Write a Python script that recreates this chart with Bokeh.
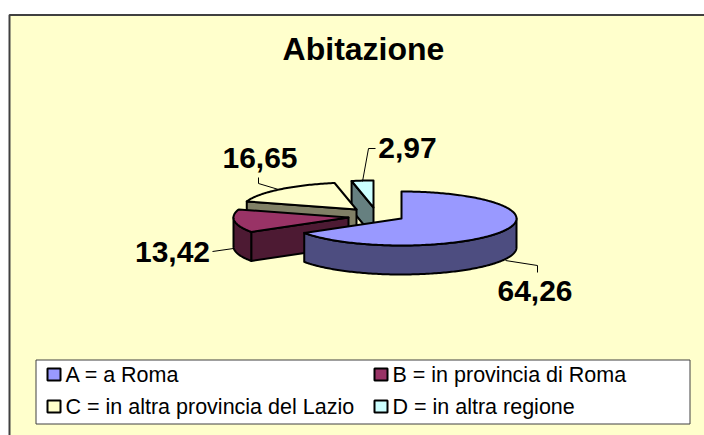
import math
from bokeh.plotting import figure
from bokeh.models import Range1d
from bokeh.core.properties import value
from bokeh.embed import file_html
from bokeh.resources import INLINE

# ---- data ----
title = "Abitazione"
categories = ["A = a Roma", "B = in provincia di Roma",
              "C = in altra provincia del Lazio", "D = in altra regione"]
values = [64.26, 13.42, 16.65, 2.97]
value_labels = ["64,26", "13,42", "16,65", "2,97"]
top_colors = ["#9999FF", "#993366", "#FFFFCC", "#CCFFFF"]
side_colors = ["#4D4D80", "#4D1A33", "#808066", "#668080"]

# ---- layout (page pixels) ----
FONT = value("Liberation Sans")
W, H = 704, 435
RX, RY, DEPTH = 115, 27, 29
centres = [(401, 218), (348, 217), (356, 209), (373, 207)]
label_pos = [(534.5, 290), (172, 251.5), (259.5, 157.5), (407, 147)]
leaders = [([505, 537, 537], [260, 265, 272]),
           ([212, 233], [251, 248]),
           ([258, 258, 278], [177, 183, 189]),
           ([375, 368, 362], [148, 148, 181])]
legend_pos = [(47, 374), (374, 374), (47, 406), (374, 406)]

p = figure(width=W, height=H, output_backend="svg", toolbar_location=None,
           x_range=Range1d(0, W), y_range=Range1d(H, 0),
           min_border=0, outline_line_color=None, background_fill_color="white",
           border_fill_color="white")
p.axis.visible = False
p.grid.visible = False

# chart area
p.quad(left=[9], right=[720], top=[14.5], bottom=[450], fill_color="#FFFFCC",
       line_color="#404040", line_width=2)


def point(cx, cy, th):
    """Projected rim point at clockwise angle th (degrees from 12 o'clock)."""
    s, c = math.sin(math.radians(th)), math.cos(math.radians(th))
    return cx + RX * s, cy - RY * c


def arc(cx, cy, a, b):
    n = max(2, int(abs(b - a)) + 1)
    return [point(cx, cy, a + (b - a) * i / (n - 1)) for i in range(n)]


total = sum(values)
spans = []
acc = 0.0
for v in values:
    spans.append((acc, acc + 360 * v / total))
    acc += 360 * v / total


def draw_poly(pts, color):
    p.patch([q[0] for q in pts], [q[1] for q in pts], fill_color=color,
            line_color="#000000", line_width=2, line_join="round")


# back to front: D, C, B, A
for i in [3, 2, 1, 0]:
    a, b = spans[i]
    cx, cy = centres[i]
    # radial wall on the start edge when it faces the viewer
    if 180 < a < 360:
        e = point(cx, cy, a)
        draw_poly([e, (cx, cy), (cx, cy + DEPTH), (e[0], e[1] + DEPTH)], side_colors[i])
    # outer wall on the front half
    lo, hi = max(a, 90), min(b, 270)
    if hi > lo:
        rim = arc(cx, cy, lo, hi)
        draw_poly(rim + [(x, y + DEPTH) for x, y in reversed(rim)], side_colors[i])
    # top face
    draw_poly([(cx, cy)] + arc(cx, cy, a, b), top_colors[i])

# leader lines
for xs, ys in leaders:
    p.line(xs, ys, line_color="#000000", line_width=1)

# title and labels
p.text([363], [48], text=[title], text_font=FONT, text_font_style="bold",
       text_font_size="32px", text_align="center", text_baseline="middle", text_color="#000000")
p.text([q[0] for q in label_pos], [q[1] for q in label_pos], text=value_labels,
       text_font=FONT, text_font_style="bold", text_font_size="30px",
       text_align="center", text_baseline="middle", text_color="#000000")

# legend
p.quad(left=[35.5], right=[689.5], top=[359.5], bottom=[423.5], fill_color="white",
       line_color="#404040", line_width=1)
for (x, y), col, cat in zip(legend_pos, top_colors, categories):
    p.quad(left=[x], right=[x + 13], top=[y - 6], bottom=[y + 6], fill_color=col,
           line_color="#000000", line_width=2)
    p.text([x + 18], [y], text=[cat], text_font=FONT, text_font_size="21.5px",
           text_align="left", text_baseline="middle", text_color="#000000")

open("out.html", "w").write(file_html(p, INLINE))
